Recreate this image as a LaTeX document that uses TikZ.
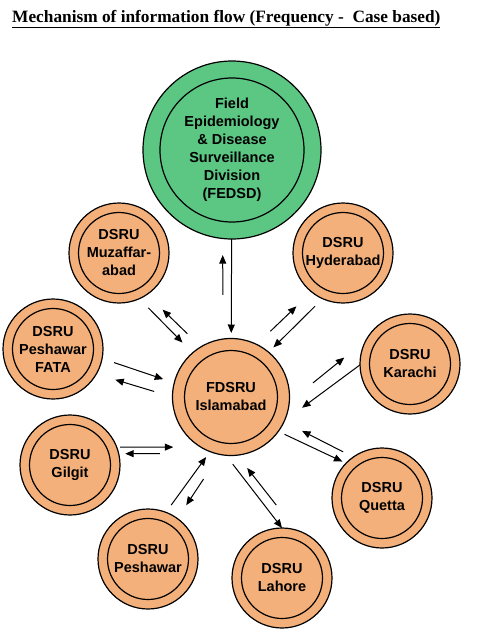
\documentclass[tikz,border=0pt]{standalone}
\usepackage{fontspec}
\usepackage{tikz}
\usetikzlibrary{
	arrows.meta,
	calc
}
\newfontfamily\unitfont{Liberation Sans}[BoldFont=* Bold]
\newfontfamily\titlefont{Liberation Serif}[BoldFont=* Bold]
\definecolor{unitorange}{HTML}{F4B07A}
\definecolor{headgreen}{HTML}{5CC683}
\tikzset{
	inner ring/.style={
		path picture={\draw[line width=1.2pt] (path picture bounding box.center) circle[radius=#1];}
	},
	unitnode/.style={
		circle,
		draw=black,
		fill=unitorange,
		line width=1.2pt,
		outer sep=0pt,
		inner sep=0pt,
		minimum size=100pt,
		inner ring=40.5pt,
		align=center,
		font=\unitfont\bfseries\fontsize{14.5}{18}\selectfont
	},
	hubnode/.style={
		unitnode,
		minimum size=117pt,
		inner ring=46.5pt
	},
	headnode/.style={
		unitnode,
		fill=headgreen,
		minimum size=178pt,
		inner ring=72pt
	},
	flow/.style={
		-{Triangle[length=8.5pt,width=7pt]},
		line width=1pt
	}
}

\begin{document}
\begin{tikzpicture}[x=1pt,y=-1pt]
	\useasboundingbox (0,0) rectangle (499,640);
	
	% Title
	\node[anchor=base west, inner sep=0pt, font=\titlefont\bfseries\fontsize{17.3}{20}\selectfont] (title) at (12,22)
	{\underline{Mechanism of information flow (Frequency -\ \ Case based)}};
	
	% Nodes
	% Top: division
	\node[headnode] (fedsd) at (232,150)
	{Field\\Epidemiology\\\& Disease\\Surveillance\\Division\\(FEDSD)};
	
	% Centre: hub
	\node[hubnode] (fdsru) at (231,397) {FDSRU\\Islamabad};
	
	% Ring of units
	\node[unitnode] (muzaffarabad) at (119,253) {DSRU\\Muzaffar-\\abad};
	\node[unitnode] (hyderabad) at (343,253) {DSRU\\Hyderabad};
	\node[unitnode] (fata) at (53,349) {DSRU\\Peshawar\\FATA};
	\node[unitnode] (karachi) at (410,364) {DSRU\\Karachi};
	\node[unitnode] (gilgit) at (70,465) {DSRU\\Gilgit};
	\node[unitnode] (quetta) at (382,498) {DSRU\\Quetta};
	\node[unitnode] (peshawar) at (148,559) {DSRU\\Peshawar};
	\node[unitnode] (lahore) at (282,578) {DSRU\\Lahore};
	
	% Arrows
	% Division and hub
	\draw[flow, shorten >=5.5pt] (fedsd) -- (fdsru);
	\draw[flow, shorten <=44.2pt, shorten >=16.6pt] (fdsru.98.9) -- (fedsd.-96.5);
	
	% Muzaffarabad
	\draw[flow, shorten <=12.8pt, shorten >=14.4pt] (muzaffarabad.-66.3) -- (fdsru.131.7);
	\draw[flow, shorten <=18.9pt, shorten >=21.8pt] (fdsru.121.3) -- (muzaffarabad.-56.9);
	
	% Peshawar FATA
	\draw[flow, shorten <=12.7pt, shorten >=11.6pt] (fata.-11.6) -- (fdsru.166.7);
	\draw[flow, shorten <=19.2pt, shorten >=19.8pt] (fdsru.180) -- (fata.-30.8);
	
	% Gilgit
	\draw[flow, shorten <=3.4pt, shorten >=27.6pt] (gilgit.21.1) -- (fdsru.-121.3);
	\draw[flow, shorten <=55.1pt, shorten >=6.5pt] (fdsru.-106.8) -- (gilgit.13.9);
	
	% Peshawar
	\draw[flow, shorten <=9pt, shorten >=6.7pt] (peshawar.69.3) -- (fdsru.-111.1);
	\draw[flow, shorten <=29.5pt, shorten >=16pt] (fdsru.-101.7) -- (peshawar.54.3);
	
	% Lahore
	\draw[flow, shorten <=11.2pt] (fdsru.-95.8) -- (lahore.90);
	\draw[flow, shorten <=31.6pt, shorten >=16.3pt] (lahore.74.3) -- (fdsru.-84.2);
	
	% Quetta
	\draw[flow, shorten <=6.9pt, shorten >=4pt] (fdsru.-36.9) -- (quetta.136.7);
	\draw[flow, shorten <=11.4pt, shorten >=20.2pt] (quetta.125.3) -- (fdsru.-25.1);
	
	% Karachi
	\draw[flow, shorten <=30.5pt, shorten >=28.3pt] (fdsru.-5) -- (karachi.151.7);
	\draw[flow, shorten >=21.9pt] (karachi.181.4) -- (fdsru.-24.2);
	
	% Hyderabad
	\draw[flow, shorten <=19.1pt, shorten >=20.9pt] (fdsru.64.5) -- (hyderabad.-129.6);
	\draw[flow, shorten <=10.6pt, shorten >=6.8pt] (hyderabad.-114.2) -- (fdsru.50.6);
	
\end{tikzpicture}
\end{document}
